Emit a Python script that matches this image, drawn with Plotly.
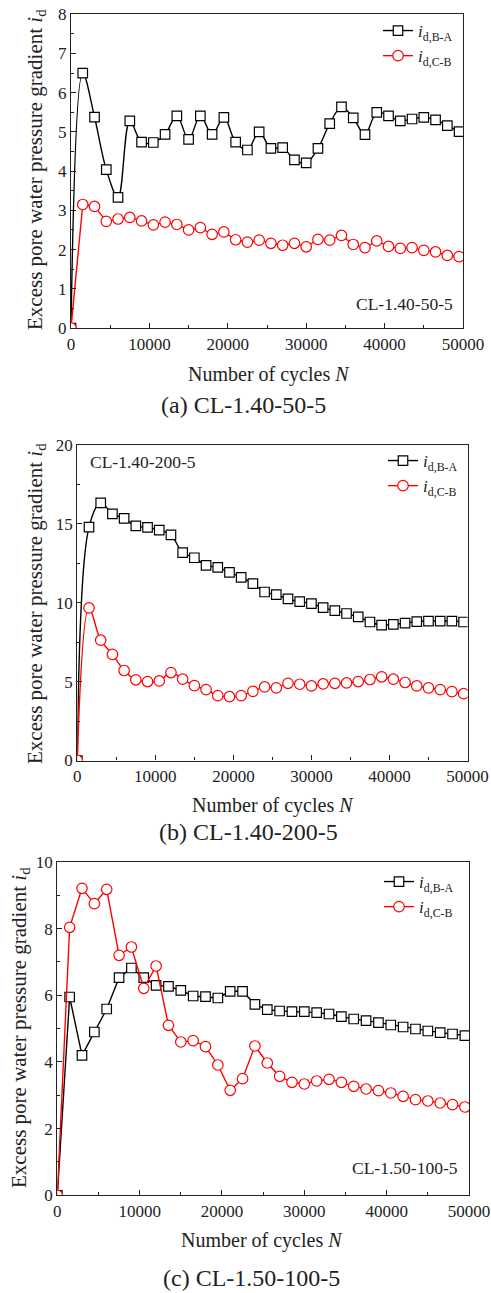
import plotly.graph_objects as go

W, H = 491, 1293
FONT = "Liberation Serif, Times New Roman, Times, DejaVu Serif, serif"

# ---------------- data ----------------
cycles = [0] + [1500 * k for k in range(1, 34)]

a_BA = [0, 6.50, 5.38, 4.04, 3.33, 5.28, 4.74, 4.73, 4.94, 5.41, 4.81, 5.41, 4.94, 5.37,
        4.74, 4.54, 5.00, 4.58, 4.60, 4.29, 4.21, 4.58, 5.21, 5.64, 5.36, 4.93, 5.50,
        5.41, 5.28, 5.33, 5.37, 5.31, 5.16, 5.01]
a_CB = [0, 3.15, 3.10, 2.72, 2.78, 2.82, 2.73, 2.63, 2.70, 2.64, 2.50, 2.56, 2.39, 2.45,
        2.25, 2.19, 2.24, 2.16, 2.11, 2.16, 2.07, 2.26, 2.24, 2.36, 2.13, 2.05, 2.22,
        2.08, 2.03, 2.05, 1.98, 1.94, 1.85, 1.82]

b_BA = [0, 14.78, 16.32, 15.62, 15.33, 14.86, 14.76, 14.59, 14.29, 13.16, 12.84, 12.36,
        12.23, 11.92, 11.60, 11.20, 10.67, 10.51, 10.23, 10.06, 9.94, 9.68, 9.49, 9.31,
        9.09, 8.77, 8.57, 8.62, 8.70, 8.79, 8.83, 8.83, 8.83, 8.77]
b_CB = [0, 9.66, 7.62, 6.72, 5.70, 5.11, 5.00, 5.04, 5.57, 5.15, 4.74, 4.49, 4.11, 4.04,
        4.11, 4.38, 4.66, 4.60, 4.89, 4.83, 4.72, 4.85, 4.89, 4.91, 5.00, 5.13, 5.30,
        5.15, 4.94, 4.72, 4.60, 4.49, 4.36, 4.23]

c_BA = [0, 5.95, 4.20, 4.90, 5.59, 6.53, 6.82, 6.53, 6.30, 6.27, 6.15, 5.98, 5.96, 5.92,
        6.12, 6.12, 5.73, 5.57, 5.53, 5.51, 5.51, 5.48, 5.44, 5.36, 5.29, 5.24, 5.18,
        5.11, 5.05, 4.99, 4.93, 4.88, 4.84, 4.79]
c_CB = [0, 8.04, 9.21, 8.75, 9.18, 7.20, 7.45, 6.21, 6.88, 5.10, 4.60, 4.64, 4.46, 3.91,
        3.15, 3.50, 4.48, 3.97, 3.57, 3.39, 3.34, 3.43, 3.48, 3.39, 3.27, 3.19, 3.14,
        3.07, 2.97, 2.87, 2.83, 2.77, 2.72, 2.65]

names = ["<i>i</i><sub>d,B-A</sub>", "<i>i</i><sub>d,C-B</sub>"]
labels = ["CL-1.40-50-5", "CL-1.40-200-5", "CL-1.50-100-5"]
captions = ["(a) CL-1.40-50-5", "(b) CL-1.40-200-5", "(c) CL-1.50-100-5"]
ymax = [8, 20, 10]
ydt = [1, 5, 2]

# ---------------- layout geometry (pixels) ----------------
panels = [
    dict(x0=71, x1=463, y0=14.3, y1=328),
    dict(x0=77.3, x1=467.5, y0=444.7, y1=760.5),
    dict(x0=57.3, x1=469, y0=862, y1=1195.3),
]

def fx(p):
    return p / W

def fy(p):
    return 1 - p / H

series = [(a_BA, a_CB, "spline", "linear"),
          (b_BA, b_CB, "spline", "spline"),
          (c_BA, c_CB, "linear", "linear")]

fig = go.Figure()
layout = dict(width=W, height=H, margin=dict(l=0, r=0, t=0, b=0, autoexpand=False),
              paper_bgcolor="white", plot_bgcolor="white",
              font=dict(family=FONT, size=17, color="#222"), showlegend=True)
annotations = []

legend_pos = [(386, 13), (391, 443), (387, 864)]

for i, (ba, cb, sh1, sh2) in enumerate(series):
    n = "" if i == 0 else str(i + 1)
    xa, ya = "x" + n, "y" + n
    lg = "legend" + n
    P = panels[i]
    fig.add_trace(go.Scatter(
        x=cycles, y=ba, name=names[0], xaxis=xa, yaxis=ya, legend=lg,
        mode="lines+markers", line=dict(color="black", width=1.4, shape=sh1, smoothing=1),
        marker=dict(symbol="square", size=9.5, color="white", line=dict(color="black", width=1.2))))
    fig.add_trace(go.Scatter(
        x=cycles, y=cb, name=names[1], xaxis=xa, yaxis=ya, legend=lg,
        mode="lines+markers", line=dict(color="#ff0000", width=1.4, shape=sh2, smoothing=1),
        marker=dict(symbol="circle", size=10.5, color="white", line=dict(color="#ff0000", width=1.2))))

    axcommon = dict(showline=True, linecolor="#222", linewidth=1.3, mirror=True,
                    ticks="inside", ticklen=5, tickwidth=1.2, tickcolor="#222",
                    showgrid=False, zeroline=False, automargin=False,
                    tickfont=dict(family=FONT, size=17, color="#222"))
    layout["xaxis" + n] = dict(axcommon, domain=[fx(P["x0"]), fx(P["x1"])], anchor=ya,
                               range=[0, 50000], dtick=10000, tick0=0, tickformat="d",
                               minor=dict(dtick=5000, ticks="inside", ticklen=3, tickcolor="#222"))
    layout["yaxis" + n] = dict(axcommon, domain=[fy(P["y1"]), fy(P["y0"])], anchor=xa,
                               range=[0, ymax[i]], dtick=ydt[i], tick0=0, tickformat="d",
                               minor=dict(dtick=ydt[i] / 2, ticks="inside", ticklen=3, tickcolor="#222"))
    lx, ly = legend_pos[i]
    layout[lg] = dict(x=fx(lx - 8), y=fy(ly), xanchor="left", yanchor="top",
                      bgcolor="rgba(0,0,0,0)", borderwidth=0,
                      font=dict(family=FONT, size=17, color="#222"), tracegroupgap=0)

# text annotations
ann_specs = [
    (labels[0], 455, 304, "right"),
    (labels[1], 88, 461.7, "left"),
    (labels[2], 460, 1168, "right"),
]
for t, px, py, anc in ann_specs:
    annotations.append(dict(text=t, x=fx(px), y=fy(py), xref="paper", yref="paper",
                            xanchor=anc, yanchor="middle", showarrow=False,
                            font=dict(family=FONT, size=17.5, color="#222")))

xt = [(268.5, 374), (272.5, 805.7), (262, 1240)]
cp = [(243, 405), (248, 832), (251, 1278)]
yt = [(36, 170), (36, 604), (20, 1028)]
for i in range(3):
    annotations.append(dict(text="Number of cycles <i>N</i>", x=fx(xt[i][0]), y=fy(xt[i][1]),
                            xref="paper", yref="paper", xanchor="center", yanchor="middle",
                            showarrow=False, font=dict(family=FONT, size=20, color="#222")))
    annotations.append(dict(text=captions[i], x=fx(cp[i][0]), y=fy(cp[i][1]),
                            xref="paper", yref="paper", xanchor="center", yanchor="middle",
                            showarrow=False, font=dict(family=FONT, size=24, color="#222")))
    annotations.append(dict(text="Excess pore water pressure gradient <i>i</i><sub>d</sub>",
                            x=fx(yt[i][0]), y=fy(yt[i][1]), textangle=-90,
                            xref="paper", yref="paper", xanchor="center", yanchor="middle",
                            showarrow=False, font=dict(family=FONT, size=21, color="#222")))

layout["annotations"] = annotations
fig.update_layout(**layout)
fig.write_html("out.html", config={"displayModeBar": False},
               post_script="document.body.style.margin='0';document.body.style.overflow='hidden';")
